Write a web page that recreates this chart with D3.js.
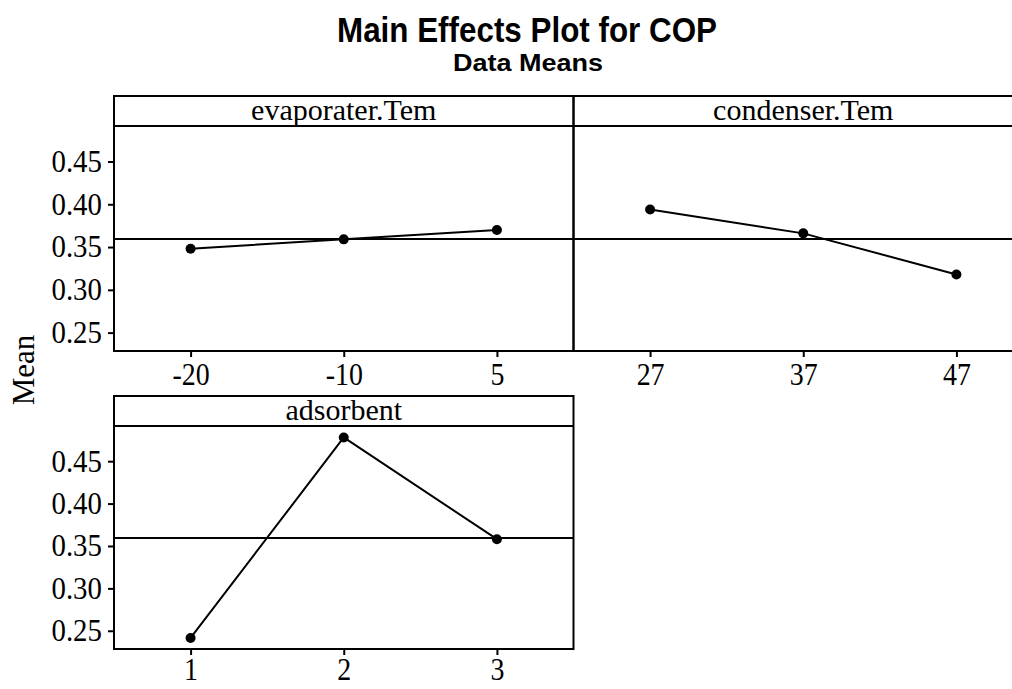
<!DOCTYPE html>
<html>
<head>
<meta charset="utf-8">
<script src="https://cdn.jsdelivr.net/npm/d3@7"></script>
<style>
  body { margin: 0; background: #fff; }
  svg { display: block; }
</style>
</head>
<body>
<div id="plot"></div>
<script>
// main effect means
let evapLevels = ["-20", "-10", "5"];
let evapMeans = [0.348, 0.359, 0.370];

let condLevels = ["27", "37", "47"];
let condMeans = [0.394, 0.366, 0.318];

let adsLevels = ["1", "2", "3"];
let adsMeans = [0.2415, 0.478, 0.358];

let grandMean = 0.3593;
let yTicks = [0.25, 0.30, 0.35, 0.40, 0.45];

let width = 1012;
let height = 689;
let panelW = 459.5;
let left = 114;
let stripH = 30;
let serif = "'Liberation Serif', 'Times New Roman', serif";
let sans = "'Liberation Sans Narrow', 'Liberation Sans', Arial, sans-serif";

let facets = [
    { name: "evaporater.Tem", levels: evapLevels, means: evapMeans, col: 0, top: 96, bottom: 351, yAxis: true, xPad: 6 },
    { name: "condenser.Tem", levels: condLevels, means: condMeans, col: 1, top: 96, bottom: 351, yAxis: false, xPad: 6 },
    { name: "adsorbent", levels: adsLevels, means: adsMeans, col: 0, top: 396, bottom: 649, yAxis: true, xPad: 3 }
];

let svg = d3.select("#plot")
    .append("svg")
    .attr("width", width)
    .attr("height", height);

svg.append("text")
    .attr("x", 527)
    .attr("y", 42)
    .attr("text-anchor", "middle")
    .attr("textLength", 380)
    .attr("lengthAdjust", "spacingAndGlyphs")
    .style("font-family", sans)
    .style("font-weight", "bold")
    .style("font-size", "35px")
    .text("Main Effects Plot for COP");

svg.append("text")
    .attr("x", 528)
    .attr("y", 71)
    .attr("text-anchor", "middle")
    .attr("textLength", 150)
    .attr("lengthAdjust", "spacingAndGlyphs")
    .style("font-family", sans)
    .style("font-weight", "bold")
    .style("font-size", "24px")
    .text("Data Means");

svg.append("text")
    .attr("transform", "translate(34,370) rotate(-90)")
    .attr("text-anchor", "middle")
    .style("font-family", serif)
    .style("font-size", "31px")
    .text("Mean");

facets.forEach(function (f) {
    let x0 = left + f.col * panelW;
    let x1 = x0 + panelW;
    let dataTop = f.top + stripH;

    let xScale = d3.scalePoint()
        .domain(f.levels)
        .range([x0, x1])
        .padding(0.5);

    let yScale = d3.scaleLinear()
        .domain([0.2285, 0.4915])
        .range([f.bottom, dataTop]);

    let g = svg.append("g");

    // panel + strip frame
    g.append("rect")
        .attr("x", x0)
        .attr("y", f.top)
        .attr("width", panelW)
        .attr("height", f.bottom - f.top)
        .attr("fill", "none")
        .attr("stroke", "#000")
        .attr("stroke-width", 2);

    g.append("line")
        .attr("x1", x0).attr("x2", x1)
        .attr("y1", dataTop).attr("y2", dataTop)
        .attr("stroke", "#000")
        .attr("stroke-width", 2);

    g.append("text")
        .attr("x", (x0 + x1) / 2)
        .attr("y", f.top + 24)
        .attr("text-anchor", "middle")
        .style("font-family", serif)
        .style("font-size", "30px")
        .text(f.name);

    // grand mean reference line
    g.append("line")
        .attr("x1", x0).attr("x2", x1)
        .attr("y1", yScale(grandMean)).attr("y2", yScale(grandMean))
        .attr("stroke", "#000")
        .attr("stroke-width", 2);

    let xAxis = d3.axisBottom(xScale).tickSize(6).tickPadding(f.xPad);
    let xg = g.append("g")
        .attr("transform", "translate(0," + f.bottom + ")")
        .call(xAxis);
    xg.select(".domain").remove();
    xg.selectAll("line").attr("stroke-width", 2);
    xg.selectAll("text")
        .attr("transform", "scale(0.9,1)")
        .style("font-family", serif)
        .style("font-size", "31px")
        .attr("fill", "#000");

    if (f.yAxis) {
        let yAxis = d3.axisLeft(yScale)
            .tickValues(yTicks)
            .tickFormat(d3.format(".2f"))
            .tickSize(6)
            .tickPadding(7);
        let yg = g.append("g")
            .attr("transform", "translate(" + x0 + ",0)")
            .call(yAxis);
        yg.select(".domain").remove();
        yg.selectAll("line").attr("stroke-width", 2);
        yg.selectAll("text")
            .attr("transform", "scale(0.93,1)")
            .style("font-family", serif)
            .style("font-size", "31px")
            .attr("fill", "#000");
    }

    let pts = f.levels.map(function (lv, i) {
        return { level: lv, mean: f.means[i] };
    });

    g.append("path")
        .datum(pts)
        .attr("fill", "none")
        .attr("stroke", "#000")
        .attr("stroke-width", 2)
        .attr("d", d3.line()
            .x(function (d) { return xScale(d.level); })
            .y(function (d) { return yScale(d.mean); }));

    g.selectAll("circle")
        .data(pts)
        .enter()
        .append("circle")
        .attr("cx", function (d) { return xScale(d.level); })
        .attr("cy", function (d) { return yScale(d.mean); })
        .attr("r", 5)
        .attr("fill", "#000");
});
</script>
</body>
</html>
